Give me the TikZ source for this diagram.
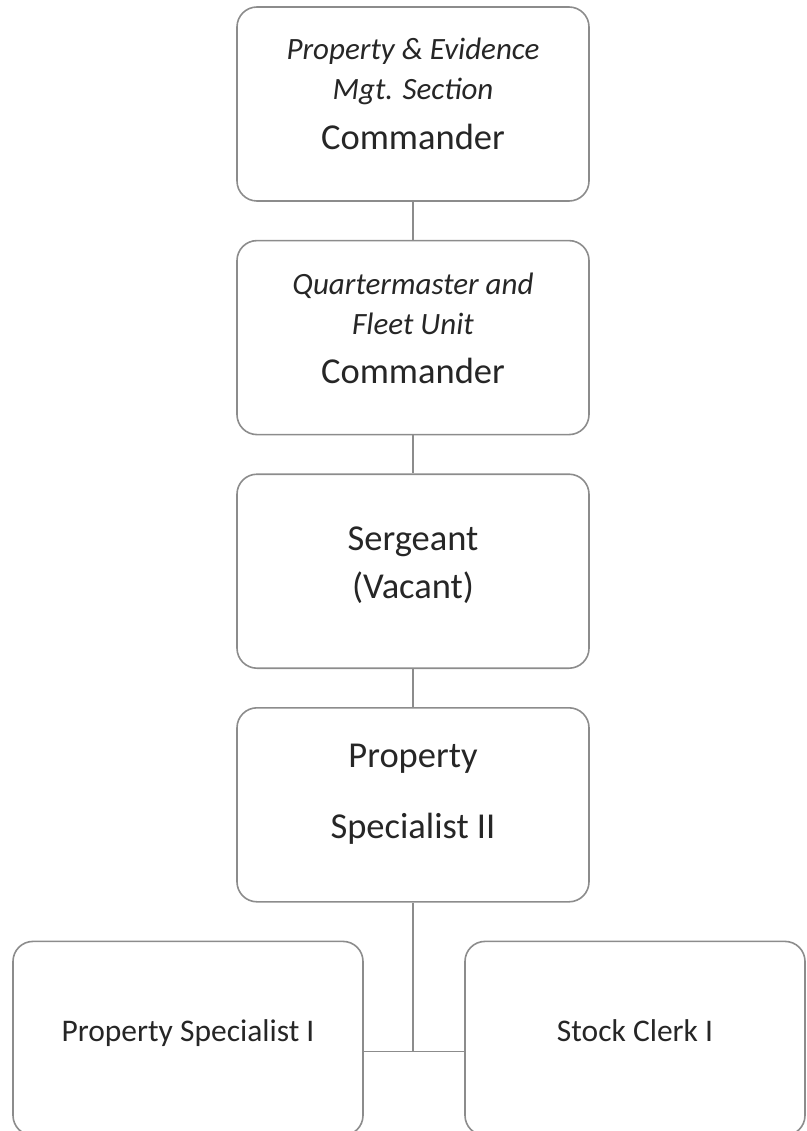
\documentclass[tikz,border=0pt]{standalone}
\usepackage{fontspec}
\setmainfont{Carlito}
\usetikzlibrary{positioning}

\tikzset{
  post/.style={draw=black!45,line width=1.6pt,rounded corners=20pt,minimum width=352pt,minimum height=194pt,
    align=center,text=black!85,inner sep=0pt,text depth=0pt,font=\fontsize{31}{40}\selectfont},
  link/.style={draw=black!45,line width=1.6pt},
}
\newcommand{\unitname}[1]{{\fontsize{31}{40}\selectfont\itshape #1}}
\newcommand{\rankname}[1]{{\fontsize{36.5}{42}\selectfont #1}}

\begin{document}
\begin{tikzpicture}[x=1pt,y=-1pt,node distance=38pt]
\useasboundingbox (0,0) rectangle (806,1131);
\node[post,text height=92pt] (section) at (413,104) {\unitname{Property \& Evidence}\\\unitname{Mgt. Section}\\[10pt]\rankname{Commander}};
\node[post,text height=92pt,below=of section] (unit) {\unitname{Quartermaster and}\\\unitname{Fleet Unit}\\[9pt]\rankname{Commander}};
\node[post,text height=54pt,below=of unit] (sergeant) {\rankname{Sergeant}\\[8pt]\rankname{(Vacant)}};
\node[post,text height=68pt,below=of sergeant] (spectwo) {\rankname{Property}\\[31pt]\rankname{Specialist II}};
\node[post,text height=6pt,minimum width=350pt,below=of spectwo,xshift=-225pt,font=\fontsize{31.5}{38}\selectfont] (specone) {Property Specialist I};
\node[post,text height=6pt,minimum width=340pt,below=of spectwo,xshift=222pt,font=\fontsize{31.5}{38}\selectfont] (clerk) {Stock Clerk I};
\coordinate[below=13pt of specone.east] (join);
% vertical chain
\draw[link] (section) -- (unit);
\draw[link] (unit) -- (sergeant);
\draw[link] (sergeant) -- (spectwo);
% split to the two posts below
\draw[link] (spectwo) -- (spectwo |- join);
\draw[link] (specone.east |- join) -- (clerk.west |- join);
\end{tikzpicture}
\end{document}
